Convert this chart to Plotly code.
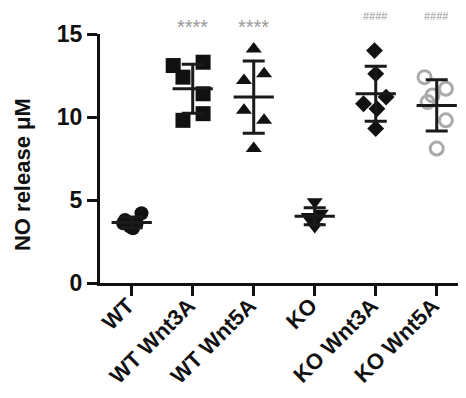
import numpy as np
import plotly.graph_objects as go

categories = ["WT", "WT Wnt3A", "WT Wnt5A", "KO", "KO Wnt3A", "KO Wnt5A"]
wt = [3.8, 4.2, 3.4, 3.6, 3.6, 3.3]
wt_wnt3a = [13.1, 13.3, 12.4, 11.4, 9.8, 10.2]
wt_wnt5a = [14.1, 12.2, 12.6, 10.4, 9.8, 8.1]
ko = [4.9, 4.2, 4.0, 3.9, 3.7, 3.4]
ko_wnt3a = [14.0, 12.6, 11.2, 10.8, 10.5, 9.3]
ko_wnt5a = [12.4, 11.7, 11.3, 10.9, 9.8, 8.1]
significance = ["", "****", "****", "", "####", "####"]
y_ticks = [0, 5, 10, 15]
y_title = "NO release μM"

groups = [wt, wt_wnt3a, wt_wnt5a, ko, ko_wnt3a, ko_wnt5a]

# style: horizontal scatter offsets (category units), markers
jitter = [
    [-0.11, 0.16, -0.03, 0.08, -0.14, 0.02],
    [-0.32, 0.17, -0.16, 0.17, -0.16, 0.17],
    [0.0, -0.16, 0.17, -0.16, 0.17, 0.0],
    [0.0, 0.1, -0.1, 0.05, -0.05, 0.0],
    [-0.02, 0.0, 0.17, -0.2, 0.02, 0.0],
    [-0.2, 0.15, -0.07, -0.15, 0.15, 0.0],
]
symbols = ["circle", "square", "triangle-up", "triangle-down", "diamond", "circle-open"]
sizes = [14, 15, 14, 14, 13, 13]
colors = ["#111", "#111", "#111", "#111", "#111", "#aaaaaa"]

FONT = "Liberation Sans, Arial, sans-serif"
fig = go.Figure()

for i, vals in enumerate(groups):
    xs = [i + j for j in jitter[i]]
    fig.add_trace(go.Scatter(
        x=xs, y=vals, mode="markers",
        marker=dict(symbol=symbols[i], size=sizes[i], color=colors[i],
                    line=dict(width=3 if symbols[i].endswith("open") else 0, color=colors[i])),
        showlegend=False, hoverinfo="y", cliponaxis=False))

means = [float(np.mean(g)) for g in groups]
sds = [float(np.std(g, ddof=1)) for g in groups]

# error bars (SD)
fig.add_trace(go.Scatter(
    x=list(range(len(categories))), y=means, mode="markers",
    marker=dict(size=0.1, color="#111", opacity=0),
    error_y=dict(type="data", array=sds, visible=True, color="#1a1a1a", thickness=3, width=11),
    showlegend=False, hoverinfo="skip"))

# mean lines
mx, my = [], []
for i, m in enumerate(means):
    mx += [i - 0.33, i + 0.33, None]
    my += [m, m, None]
fig.add_trace(go.Scatter(x=mx, y=my, mode="lines", line=dict(color="#1a1a1a", width=3),
                         showlegend=False, hoverinfo="skip"))

for i, s in enumerate(significance):
    if s:
        star = s.startswith("*")
        fig.add_annotation(x=i, y=1.05 if star else 1.072, text=s, showarrow=False,
                           font=dict(family=FONT, size=20 if star else 11, color="#999999"),
                           xref="x", yref="paper", yanchor="middle" if not star else "top",
                           yshift=0 if not star else 8)

fig.add_annotation(x=-0.213, y=0.506, xref="paper", yref="paper", text="<b>%s</b>" % y_title,
                   textangle=-90, showarrow=False, xanchor="center", yanchor="middle",
                   yshift=-18, font=dict(size=22, family=FONT, color="#111"))

# the page body has an 8px default margin, so the figure is offset by 8px
fig.update_layout(
    width=458, height=390,
    margin=dict(l=92, r=0, t=26, b=115),
    paper_bgcolor="white", plot_bgcolor="white",
    font=dict(family=FONT, color="#111"),
    xaxis=dict(range=[-0.52, 5.48], tickmode="array", tickvals=list(range(len(categories))),
               ticktext=["<b>%s</b>" % c for c in categories], tickangle=-45,
               tickfont=dict(size=22, family=FONT, color="#111"),
               ticklabelstandoff=-12, ticklabelshift=-4,
               showline=True, linewidth=3, linecolor="#111", ticks="outside", ticklen=10,
               tickwidth=3, tickcolor="#111", showgrid=False, zeroline=False, automargin=False),
    yaxis=dict(range=[0, 15], tickmode="array", tickvals=y_ticks,
               ticktext=["<b>%d</b>" % v for v in y_ticks],
               tickfont=dict(size=23, family=FONT, color="#111"),
               showline=True, linewidth=3, linecolor="#111", ticks="outside", ticklen=10,
               tickwidth=3, tickcolor="#111", showgrid=False, zeroline=False, automargin=False),
)

fig.write_html("out.html")
